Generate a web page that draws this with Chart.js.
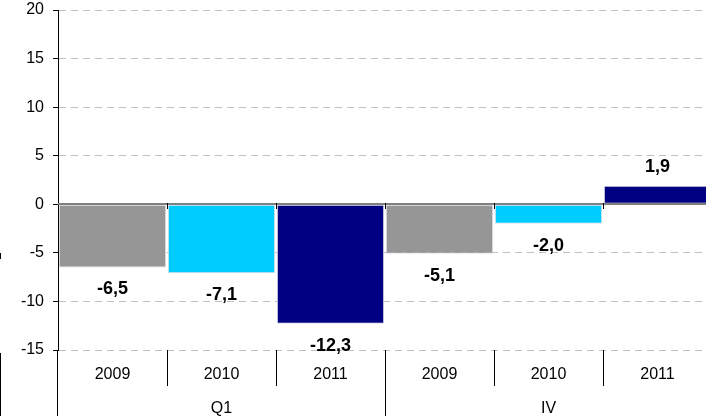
<!DOCTYPE html>
<html>
<head>
<meta charset="utf-8">
<script src="https://cdn.jsdelivr.net/npm/chart.js@4/dist/chart.umd.min.js"></script>
<style>
  html, body { margin: 0; padding: 0; background: #fff; overflow: hidden; }
  #wrap { width: 712px; height: 416px; }
</style>
</head>
<body>
<div id="wrap"><canvas id="chart" width="712" height="416"></canvas></div>
<script>
// --- Data ---
const groups = ['Q1', 'IV'];
const years = ['2009', '2010', '2011', '2009', '2010', '2011'];
const values = [-6.5, -7.1, -12.3, -5.1, -2.0, 1.9];
const yMin = -15, yMax = 20, yStep = 5;

const FONT = "'Liberation Sans', Arial, sans-serif";
const barColors = ['#969696', '#00ccff', '#000080', '#969696', '#00ccff', '#000080'];

function fmt(v) {
    return v.toFixed(1).replace('.', ',');
}

// zero line, bar labels, category table under the plot
const extras = {
    id: 'extras',
    afterDatasetsDraw(chart) {
        const { ctx, chartArea: a, scales: { x, y } } = chart;
        const y0 = Math.round(y.getPixelForValue(0));
        const line = (x1, y1, x2, y2) => { ctx.beginPath(); ctx.moveTo(x1, y1); ctx.lineTo(x2, y2); ctx.stroke(); };
        ctx.save();

        // zero line
        ctx.strokeStyle = '#808080';
        ctx.lineWidth = 2;
        line(a.left, y0, a.right, y0);

        // category boundaries
        ctx.strokeStyle = '#000';
        ctx.lineWidth = 1;
        const per = years.length / groups.length;
        for (let i = 1; i < years.length; i++) {
            const xb = Math.round((x.getPixelForValue(i - 1) + x.getPixelForValue(i)) / 2) + 0.5;
            line(xb, y0 - 1, xb, y0 + 5);
            line(xb, a.bottom, xb, i % per === 0 ? chart.height : a.bottom + 36);
        }
        // y axis runs down through the table
        line(Math.round(a.left) - 0.5, a.bottom, Math.round(a.left) - 0.5, chart.height);

        // stray marks at the left edge
        line(0.5, 253, 0.5, 259);
        line(0.5, 353, 0.5, chart.height);

        // value labels
        ctx.fillStyle = '#000';
        ctx.textAlign = 'center';
        ctx.textBaseline = 'middle';
        ctx.font = 'bold 18px ' + FONT;
        chart.getDatasetMeta(0).data.forEach((bar, i) => {
            const v = values[i];
            ctx.fillText(fmt(v), bar.x, v < 0 ? bar.y + 22 : bar.y - 19);
        });

        // year row and group row
        ctx.font = '16px ' + FONT;
        years.forEach((yr, i) => {
            ctx.fillText(yr, x.getPixelForValue(i), a.bottom + 25);
        });
        groups.forEach((g, k) => {
            const mid = (x.getPixelForValue(k * per) + x.getPixelForValue(k * per + per - 1)) / 2;
            ctx.fillText(g, mid, a.bottom + 59);
        });
        ctx.restore();
    }
};

const ctx = document.getElementById('chart').getContext('2d');
const chart = new Chart(ctx, {
    type: 'bar',
    data: {
        labels: years,
        datasets: [{
            data: values,
            backgroundColor: barColors,
            borderColor: 'rgba(220,220,235,0.9)',
            borderWidth: 1,
            borderSkipped: false,
            barPercentage: 0.985,
            categoryPercentage: 1
        }]
    },
    options: {
        responsive: false,
        animation: false,
        layout: { padding: { top: 0, right: 0, bottom: 66, left: 0 } },
        plugins: {
            legend: { display: false },
            tooltip: { enabled: false }
        },
        scales: {
            x: {
                display: false,
                offset: true
            },
            y: {
                min: yMin,
                max: yMax,
                afterFit: function (scale) {
                    scale.width = 58;
                    scale.paddingTop = 10;
                    scale.paddingBottom = 0;
                },
                ticks: {
                    stepSize: yStep,
                    padding: 9,
                    color: '#000',
                    font: { family: FONT, size: 16 }
                },
                grid: {
                    color: function (c) { return c.tick && c.tick.value === 0 ? 'rgba(0,0,0,0)' : '#c0c0c0'; },
                    tickColor: '#000',
                    tickLength: 5,
                    lineWidth: 1
                },
                border: { display: true, color: '#000', width: 1, dash: [7, 5] }
            }
        }
    },
    plugins: [extras]
});
</script>
</body>
</html>
